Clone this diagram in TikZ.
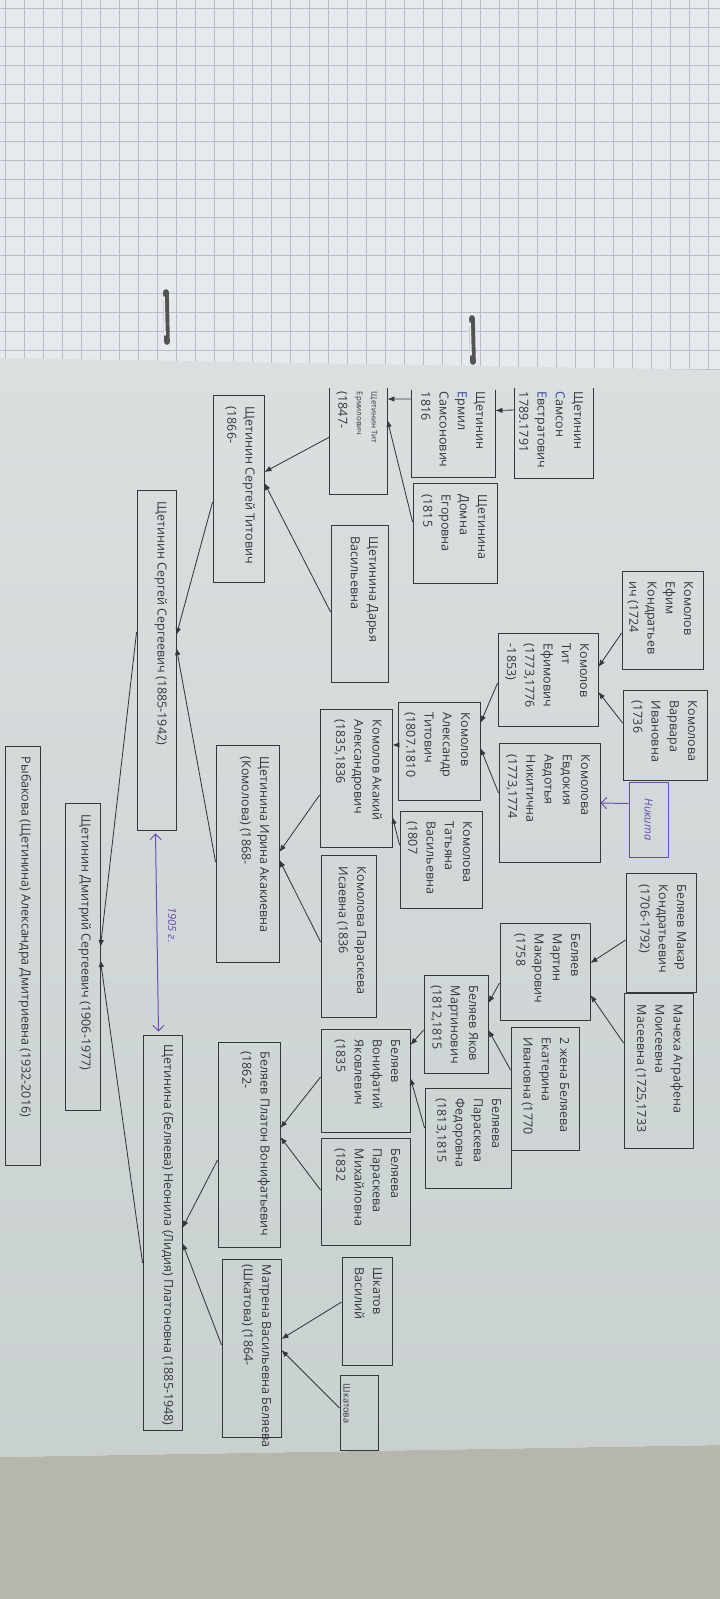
\documentclass[tikz,border=0pt]{standalone}
\usepackage{fontspec}
\setmainfont{Open Sans}
\usetikzlibrary{arrows.meta,fit}

\definecolor{ink}{HTML}{35383B}
\definecolor{paperhi}{HTML}{DADFE0}
\definecolor{paperlo}{HTML}{C9D0D0}
\definecolor{gridpaper}{HTML}{E6EAEE}
\definecolor{gridline}{HTML}{B6BEC7}
\definecolor{desk}{HTML}{B5B6AC}
\definecolor{pen}{HTML}{6A4DB0}
\definecolor{bluepen}{HTML}{3446A6}

\tikzset{
  person/.style={draw=ink, line width=0.6pt, inner sep=0pt},
  ptext/.style={rotate=-90, anchor=north west, inner sep=0pt, align=left, text=ink,
    font=\fontsize{8.9}{13}\selectfont},
  arr/.style={draw=ink, line width=0.6pt, -{Latex[length=5pt,width=4pt]}},
  penline/.style={draw=pen, line width=0.7pt},
}

\begin{document}
\begin{tikzpicture}[x=0.025cm, y=-0.025cm]
  \useasboundingbox (0,0) rectangle (720,1599);
  % graph paper, page and desk
  \fill[gridpaper] (0,0) rectangle (720,372);
  \foreach \gx in {5,24,...,720} \draw[gridline, line width=0.4pt] (\gx,0) -- (\gx,372);
  \foreach \gy in {8,27,...,372} \draw[gridline, line width=0.4pt] (0,\gy) -- (720,\gy);
  \shade[top color=paperhi, bottom color=paperlo] (0,358) -- (720,370) -- (720,1445) -- (0,1457) -- cycle;
  \fill[desk] (0,1457) -- (720,1445) -- (720,1599) -- (0,1599) -- cycle;
  \draw[line width=4pt, gray!65!black, line cap=round] (166,292) -- (167,342);
  \draw[line width=1.2pt, white!85!gray, line cap=round] (164,297) -- (165,335);
  \draw[line width=4pt, gray!65!black, line cap=round] (472,318) -- (473,362);
  \draw[line width=1.2pt, white!85!gray, line cap=round] (470,323) -- (471,355);

  % Щетинины
  \node[person, draw=none, fit={(515,388) (593,478)}] (samson) {};
  \draw[ink, line width=0.6pt] (samson.north west) -- (samson.south west) -- (samson.south east) -- (samson.north east);
  \node[ptext] at ([shift={(-10,4)}]samson.north east) {Щетинин\\{\color{bluepen}С}амсон\\{\color{bluepen}Е}встратович\\1789.1791};
  \node[person, draw=none, fit={(412,390) (495,477)}] (ermil) {};
  \draw[ink, line width=0.6pt] (ermil.north west) -- (ermil.south west) -- (ermil.south east) -- (ermil.north east);
  \node[ptext] at ([shift={(-10,2)}]ermil.north east) {Щетинин\\{\color{bluepen}Е}рмил\\Самсонович\\1816};
  \node[person, fit={(413,483) (497,583)}] (domna) {};
  \node[ptext] at ([shift={(-10,12)}]domna.north east) {Щетинина\\Домна\\Егоровна\\(1815};
  \node[person, draw=none, fit={(330,388) (387,494)}] (tit) {};
  \draw[ink, line width=0.6pt] (tit.north west) -- (tit.south west) -- (tit.south east) -- (tit.north east);
  \node[ptext] at ([shift={(-10,4)}]tit.north east) {{\fontsize{5.6}{7}\selectfont Щетинин Тит}\\[-2.5pt]{\fontsize{5.6}{7}\selectfont Ермилович}\\(1847-};
  \node[person, fit={(331,525) (388,682)}] (darya) {};
  \node[ptext] at ([shift={(-10,12)}]darya.north east) {Щетинина Дарья\\Васильевна};
  \node[person, fit={(213,395) (264,582)}] (sergeyt) {};
  \node[ptext] at ([shift={(-9,12)}]sergeyt.north east) {Щетинин Сергей Титович\\(1866-};
  \node[person, fit={(137,490) (176,830)}] (ss) {};
  \node[ptext] at ([shift={(-9,12)}]ss.north east) {Щетинин Сергей Сергеевич (1885-1942)};

  % Комоловы
  \node[person, fit={(622,571) (703,669)}] (efim) {};
  \node[ptext] at ([shift={(-10,11)}]efim.north east) {Комолов\\Ефим\\Кондратьев\\ич (1724};
  \node[person, fit={(623,690) (707,780)}] (varvara) {};
  \node[ptext] at ([shift={(-10,11)}]varvara.north east) {Комолова\\Варвара\\Ивановна\\(1736};
  \node[person, fit={(498,633) (598,726)}] (tite) {};
  \node[ptext] at ([shift={(-9,11)}]tite.north east) {Комолов\\Тит\\Ефимович\\(1773,1776\\-1853)};
  \node[person, fit={(499,743) (600,862)}] (evdokia) {};
  \node[ptext] at ([shift={(-10,12)}]evdokia.north east) {Комолова\\Евдокия\\Авдотья\\Никитична\\(1773,1774};
  \node[person, fit={(398,702) (480,800)}] (atit) {};
  \node[ptext] at ([shift={(-10,11)}]atit.north east) {Комолов\\Александр\\Титович\\(1807.1810};
  \node[person, fit={(400,811) (482,908)}] (tatyana) {};
  \node[ptext] at ([shift={(-10,11)}]tatyana.north east) {Комолова\\Татьяна\\Васильевна\\(1807};
  \node[person, fit={(320,709) (392,847)}] (akakiy) {};
  \node[ptext] at ([shift={(-10,11)}]akakiy.north east) {Комолов Акакий\\Александрович\\(1835,1836};
  \node[person, fit={(321,855) (376,1017)}] (paraskevai) {};
  \node[ptext] at ([shift={(-10,12)}]paraskevai.north east) {Комолова Параскева\\Исаевна (1836};
  \node[person, fit={(216,745) (279,962)}] (irina) {};
  \node[ptext] at ([shift={(-10,12)}]irina.north east) {Щетинина Ирина Акакиевна\\(Комолова) (1868-};

  % Беляевы
  \node[person, fit={(626,873) (696,992)}] (makar) {};
  \node[ptext] at ([shift={(-10,12)}]makar.north east) {Беляев Макар\\Кондратьевич\\(1706-1792)};
  \node[person, fit={(624,993) (693,1148)}] (agrafena) {};
  \node[ptext] at ([shift={(-10,12)}]agrafena.north east) {Мачеха Аграфена\\Моисеевна\\Масеевна (1725,1733};
  \node[person, fit={(500,923) (590,1020)}] (martin) {};
  \node[ptext] at ([shift={(-10,11)}]martin.north east) {Беляев\\Мартин\\Макарович\\(1758};
  \node[person, fit={(511,1027) (579,1150)}] (ekaterina) {};
  \node[ptext] at ([shift={(-10,11)}]ekaterina.north east) {2 жена Беляева\\Екатерина\\Ивановна (1770};
  \node[person, fit={(424,975) (488,1073)}] (yakov) {};
  \node[ptext] at ([shift={(-10,11)}]yakov.north east) {Беляев Яков\\Мартинович\\(1812,1815};
  \node[person, fit={(425,1088) (511,1188)}] (paraskevaf) {};
  \node[ptext] at ([shift={(-10,11)}]paraskevaf.north east) {Беляева\\Параскева\\Федоровна\\(1813,1815};
  \node[person, fit={(321,1029) (410,1132)}] (bonif) {};
  \node[ptext] at ([shift={(-10,11)}]bonif.north east) {Беляев\\Вонифатий\\Яковлевич\\(1835};
  \node[person, fit={(321,1138) (410,1245)}] (paraskevam) {};
  \node[ptext] at ([shift={(-10,11)}]paraskevam.north east) {Беляева\\Параскева\\Михайловна\\(1832};
  \node[person, fit={(218,1042) (280,1247)}] (platon) {};
  \node[ptext] at ([shift={(-10,10)}]platon.north east) {Беляев Платон Вонифатьевич\\(1862-};
  \node[person, fit={(342,1257) (392,1365)}] (shkatov) {};
  \node[ptext] at ([shift={(-10,11)}]shkatov.north east) {Шкатов\\Василий};
  \node[person, fit={(340,1375) (378,1450)}] (shkatova) {};
  \node[ptext, font=\fontsize{6.5}{8}\selectfont] at ([shift={(-28,9)}]shkatova.north east) {Шкатова};
  \node[person, fit={(222,1259) (281,1437)}] (matrena) {};
  \node[ptext] at ([shift={(-10,6)}]matrena.north east) {Матрена Васильевна Беляева\\(Шкатова) (1864-};
  \node[person, fit={(143,1035) (182,1430)}] (neonila) {};
  \node[ptext] at ([shift={(-9,10)}]neonila.north east) {Щетинина (Беляева) Неонила (Лидия) Платоновна (1885-1948)};

  % потомки
  \node[person, fit={(65,803) (100,1110)}] (dmitriy) {};
  \node[ptext] at ([shift={(-9,12)}]dmitriy.north east) {Щетинин Дмитрий Сергеевич (1906-1977)};
  \node[person, fit={(5,746) (40,1165)}] (rybakova) {};
  \node[ptext] at ([shift={(-9,11)}]rybakova.north east) {Рыбакова (Щетинина) Александра Дмитриевна (1932-2016)};

  % связи
  \draw[arr] ([shift={(0,-23)}]samson.west) -- ([shift={(0,-23)}]ermil.east);
  \draw[arr] ([shift={(0,-34.5)}]ermil.west) -- ([shift={(0,-42)}]tit.east);
  \draw[arr] ([shift={(0,-11)}]domna.west) -- ([shift={(0,-21)}]tit.east);
  \draw[arr] ([shift={(0,-4)}]tit.west) -- ([shift={(0,-16.5)}]sergeyt.east);
  \draw[arr] ([shift={(0,8.5)}]darya.west) -- ([shift={(0,-5.5)}]sergeyt.east);
  \draw[arr] ([shift={(0,13.5)}]sergeyt.west) -- ([shift={(0,-25)}]ss.east);
  \draw[arr] ([shift={(0,8.5)}]irina.west) -- ([shift={(0,-12)}]ss.east);
  \draw[arr] ([shift={(0,13)}]efim.west) -- ([shift={(0,-12.5)}]tite.east);
  \draw[arr] ([shift={(0,-12)}]varvara.west) -- ([shift={(0,12.5)}]tite.east);
  \draw[arr] ([shift={(0,3.5)}]tite.west) -- ([shift={(0,-28)}]atit.east);
  \draw[arr] ([shift={(0,-9.5)}]evdokia.west) -- ([shift={(0,-3)}]atit.east);
  \draw[arr] ([shift={(0,-6)}]atit.west) -- ([shift={(0,-33)}]akakiy.east);
  \draw[arr] ([shift={(0,-14.5)}]tatyana.west) -- ([shift={(0,39)}]akakiy.east);
  \draw[arr] ([shift={(0,17)}]akakiy.west) -- ([shift={(0,-1.5)}]irina.east);
  \draw[arr] ([shift={(0,6)}]paraskevai.west) -- ([shift={(0,6.5)}]irina.east);
  \draw[arr] ([shift={(0,7.5)}]makar.west) -- ([shift={(0,-8.5)}]martin.east);
  \draw[arr] ([shift={(0,-27.5)}]agrafena.west) -- ([shift={(0,23.5)}]martin.east);
  \draw[arr] ([shift={(0,11.5)}]martin.west) -- ([shift={(0,-21)}]yakov.east);
  \draw[arr] ([shift={(0,-18.5)}]ekaterina.west) -- ([shift={(0,6)}]yakov.east);
  \draw[arr] ([shift={(0,6)}]yakov.west) -- ([shift={(0,-35.5)}]bonif.east);
  \draw[arr] ([shift={(0,-10)}]paraskevaf.west) -- ([shift={(0,-2.5)}]bonif.east);
  \draw[arr] ([shift={(0,-3.5)}]bonif.west) -- ([shift={(0,-16.5)}]platon.east);
  \draw[arr] ([shift={(0,-1.5)}]paraskevam.west) -- ([shift={(0,-7.5)}]platon.east);
  \draw[arr] ([shift={(0,15.5)}]platon.west) -- ([shift={(0,-4.5)}]neonila.east);
  \draw[arr] ([shift={(0,-3)}]matrena.west) -- ([shift={(0,10.5)}]neonila.east);
  \draw[arr] ([shift={(0,-9)}]shkatov.west) -- ([shift={(0,-9)}]matrena.east);
  \draw[arr] ([shift={(0,-4.5)}]shkatova.west) -- ([shift={(0,2)}]matrena.east);
  \draw[arr] ([shift={(0,-28)}]ss.west) -- ([shift={(0,-9.5)}]dmitriy.east);
  \draw[arr] ([shift={(0,30.5)}]neonila.west) -- ([shift={(0,3.5)}]dmitriy.east);

  % пометки ручкой
  \draw[penline, {Straight Barb[length=4pt]}-{Straight Barb[length=4pt]}] ([shift={(-1,3)}]ss.south) -- ([shift={(-4,-3)}]neonila.north);
  \node[rotate=-90, text=pen, font=\fontsize{8}{9}\selectfont\itshape] (year) at (172,925) {1905 г.};
  \node[draw=pen, line width=0.7pt, inner sep=0pt, fit={(629,782) (668,857)}] (nikita) {};
  \node[rotate=-90, text=pen, font=\fontsize{8}{9}\selectfont\itshape] at (nikita.center) {Никита};
  \draw[penline, -{Straight Barb[length=4pt]}] ([shift={(0,-16)}]nikita.west) -- ([shift={(0,0.5)}]evdokia.east);
\end{tikzpicture}
\end{document}
